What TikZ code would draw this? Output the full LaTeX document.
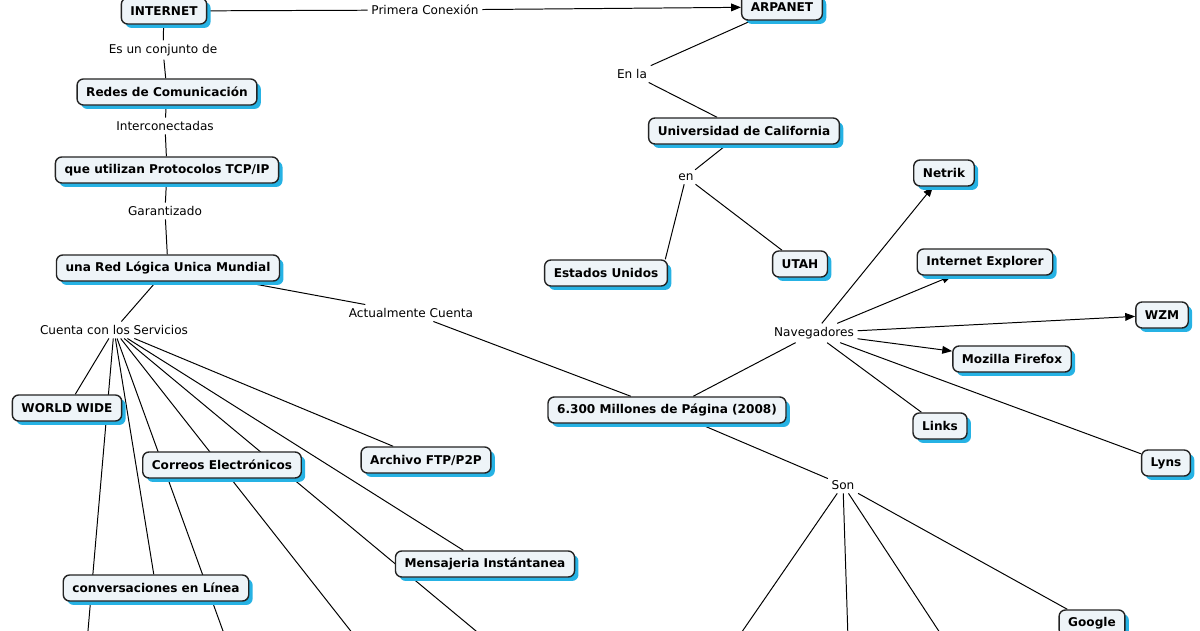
\documentclass[tikz,border=0pt]{standalone}
\usepackage{fontspec}
\setmainfont{DejaVu Sans}
\usetikzlibrary{arrows.meta,shadows,backgrounds}
\definecolor{conceptfill}{RGB}{238,244,248}
\definecolor{conceptshade}{RGB}{38,178,228}
\definecolor{conceptline}{RGB}{35,35,35}
\tikzset{
  concept/.style={draw=conceptline, line width=1pt, rounded corners=4.5pt, fill=conceptfill,
    font=\fontsize{8.6}{10}\selectfont\bfseries, inner xsep=6.5pt, minimum height=18.5pt,
    drop shadow={shadow xshift=2.8pt, shadow yshift=-2.8pt, fill=conceptshade, opacity=1}},
  phrase/.style={font=\fontsize{8.6}{10}\selectfont, inner sep=2.5pt},
  link/.style={line width=0.7pt},
  linkto/.style={link, -{Triangle[length=7pt,width=5.5pt]}}
}
\begin{document}
\begin{tikzpicture}[x=0.025cm, y=-0.025cm]
  \path[use as bounding box] (0,0) rectangle (1200,630);
  % left column
  \node[concept] (internet) at (164,11) {INTERNET};
  \node[phrase] (conjunto) at (163,50) {Es un conjunto de};
  \node[concept] (redes) at (167,92) {Redes de Comunicación};
  \node[phrase] (inter) at (165,126) {Interconectadas};
  \node[concept] (tcpip) at (167,170) {que utilizan Protocolos TCP/IP};
  \node[phrase] (garant) at (165,211) {Garantizado};
  \node[concept] (redlogica) at (168,268) {una Red Lógica Unica Mundial};
  \node[phrase] (servicios) at (114,330) {Cuenta con los Servicios};
  \node[phrase] (actual) at (411,313) {Actualmente Cuenta};
  \node[concept] (www) at (67,408) {WORLD WIDE};
  \node[concept] (correos) at (222,465) {Correos Electrónicos};
  \node[concept] (ftp) at (426,460) {Archivo FTP/P2P};
  \node[concept] (mensajeria) at (485,564) {Mensajeria Instántanea};
  \node[concept] (chat) at (156,588) {conversaciones en Línea};
  % top right
  \node[phrase] (primera) at (425,10) {Primera Conexión};
  \node[concept] (arpanet) at (782,7) {ARPANET};
  \node[phrase] (enla) at (632,74) {En la};
  \node[concept] (ucla) at (744,131) {Universidad de California};
  \node[phrase] (en) at (686,177) {en};
  \node[concept] (eeuu) at (606,273) {Estados Unidos};
  \node[concept] (utah) at (800,264) {UTAH};
  % browsers
  \node[concept] (paginas) at (667,410) {6.300 Millones de Página (2008)};
  \node[phrase] (naveg) at (814,333) {Navegadores};
  \node[concept] (netrik) at (944,173) {Netrik};
  \node[concept] (iexplorer) at (985,262) {Internet Explorer};
  \node[concept] (wzm) at (1162,315) {WZM};
  \node[concept] (firefox) at (1012,359) {Mozilla Firefox};
  \node[concept] (links) at (940,426) {Links};
  \node[concept] (lyns) at (1166,463) {Lyns};
  \node[phrase] (son) at (843,485) {Son};
  \node[concept] (google) at (1092,623) {Google};
  % ends below the cut
  \coordinate (cut1) at (82,700);
  \coordinate (cut2) at (248,700);
  \coordinate (cut3) at (405,700);
  \coordinate (cut4) at (559,700);
  \coordinate (son1) at (695,700);
  \coordinate (son2) at (850,700);
  \coordinate (son3) at (984,700);
  \begin{scope}[on background layer]
    \draw[link] (internet) -- (conjunto) -- (redes) -- (inter) -- (tcpip) -- (garant) -- (redlogica);
    \draw[link] (internet) -- (primera);
    \draw[linkto] (primera) -- (arpanet);
    \draw[link] (arpanet) -- (enla) -- (ucla) -- (en);
    \draw[link] (en) -- ([xshift=-2pt]eeuu.north east);
    \draw[link] (en) -- (utah);
    \draw[link] (redlogica) -- (servicios);
    \draw[link] (redlogica) -- (actual) -- (paginas);
    \foreach \target in {www,chat,mensajeria,ftp,cut1,cut2,cut3,cut4}
      \draw[link] (servicios) -- (\target);
    \draw[link] (paginas) -- (naveg);
    \draw[link] (paginas) -- (son);
    \foreach \target in {netrik,iexplorer,wzm,firefox}
      \draw[linkto] (naveg) -- (\target);
    \foreach \target in {links,lyns}
      \draw[link] (naveg) -- (\target);
    \foreach \target in {google,son1,son2,son3}
      \draw[link] (son) -- (\target);
  \end{scope}
\end{tikzpicture}
\end{document}
